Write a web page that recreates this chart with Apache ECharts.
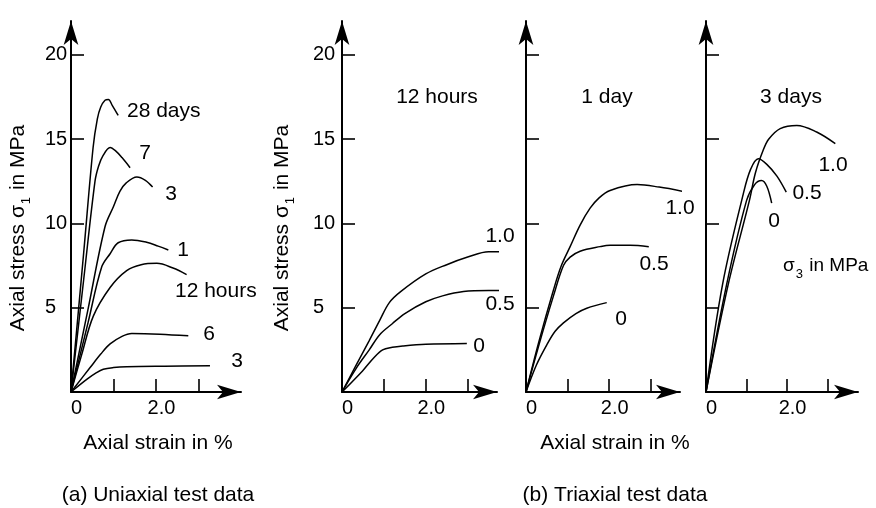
<!DOCTYPE html>
<html><head><meta charset="utf-8">
<script src="https://cdn.jsdelivr.net/npm/echarts@6/dist/echarts.min.js"></script>
<style>html,body{margin:0;padding:0;background:#fff}#c{width:876px;height:508px}</style>
</head><body><div id="c"></div>
<script>
// ---------- DATA: [axial strain in %, axial stress in MPa] ----------
// (a) Uniaxial test data
const uni28d = [[0,0],[0.3,8.3],[0.52,14.5],[0.62,16.2],[0.7,16.9],[0.8,17.3],[0.88,17.35],[0.97,17.0],[1.11,16.4]];
const uni7d  = [[0,0],[0.3,6.7],[0.565,12.5],[0.65,13.4],[0.75,14.0],[0.92,14.5],[1.05,14.3],[1.2,13.9],[1.39,13.3]];
const uni3d  = [[0,0],[0.4,4.9],[0.8,9.8],[1.0,11.0],[1.15,11.9],[1.3,12.4],[1.55,12.75],[1.75,12.55],[1.92,12.15]];
const uni1d  = [[0,0],[0.4,4.1],[0.72,7.4],[0.92,8.2],[1.11,8.85],[1.43,9.02],[1.78,8.88],[2.05,8.65],[2.29,8.42]];
const uni12h = [[0,0],[0.25,2.2],[0.525,4.5],[0.92,6.2],[1.31,7.2],[1.65,7.55],[2.02,7.63],[2.4,7.35],[2.72,6.96]];
const uni6h  = [[0,0],[0.45,1.45],[0.7,2.25],[0.92,2.85],[1.2,3.3],[1.43,3.47],[2.09,3.43],[2.76,3.33]];
const uni3h  = [[0,0],[0.37,0.75],[0.6,1.15],[0.76,1.35],[1.0,1.45],[1.31,1.5],[2.2,1.53],[3.27,1.55]];
// (b) Triaxial, 12 hours, sigma3 = 1.0 / 0.5 / 0 MPa
const tri12h_10 = [[0,0],[0.35,1.65],[0.65,3.05],[0.9,4.25],[1.13,5.3],[1.4,5.95],[2.0,7.0],[2.5,7.55],[3.0,8.0],[3.5,8.32],[4.0,8.3]];
const tri12h_05 = [[0,0],[0.35,1.45],[0.65,2.5],[0.9,3.4],[1.2,4.05],[1.5,4.65],[2.0,5.35],[2.4,5.7],[2.9,5.96],[3.5,6.02],[4.0,6.0]];
const tri12h_0  = [[0,0],[0.49,1.25],[0.75,2.0],[0.97,2.5],[1.2,2.65],[1.45,2.73],[2.0,2.83],[2.98,2.88]];
// (b) Triaxial, 1 day
const tri1d_10 = [[0,0],[0.3,2.9],[0.66,6.05],[0.85,7.5],[1.06,8.62],[1.3,9.9],[1.54,10.9],[1.75,11.5],[2.02,11.95],[2.67,12.3],[3.2,12.15],[3.79,11.89]];
const tri1d_05 = [[0,0],[0.3,2.7],[0.66,5.7],[0.9,7.5],[1.06,8.0],[1.3,8.35],[1.78,8.62],[2.02,8.7],[2.5,8.7],[2.95,8.62]];
const tri1d_0  = [[0,0],[0.25,1.6],[0.5,2.8],[0.7,3.6],[0.9,4.1],[1.2,4.65],[1.46,4.97],[1.94,5.3]];
// (b) Triaxial, 3 days
const tri3d_10 = [[0,0],[0.55,6.4],[1.07,11.35],[1.22,13.0],[1.41,14.33],[1.55,15.0],[1.83,15.62],[2.24,15.81],[2.73,15.42],[3.19,14.73]];
const tri3d_05 = [[0,0],[0.41,6.4],[0.92,11.75],[1.1,13.2],[1.29,13.83],[1.5,13.5],[1.75,12.8],[1.98,11.85]];
const tri3d_0  = [[0,0],[0.52,6.5],[1.0,11.35],[1.2,12.3],[1.37,12.54],[1.5,12.2],[1.62,11.2]];

// tick values / labels
const xTickValues = [1, 2, 3];
const xTickLabels = {0: '0', 2: '2.0'};
const yTickValues = [5, 10, 15, 20];

// ---------- CHART ----------
const FONT = '"Liberation Sans", Arial, Helvetica, sans-serif';
const panels = [
  {left: 71,  width: 170, xMax: 4.0,  yLabels: true,  yMargin: 26},
  {left: 342, width: 155, xMax: 3.7,  yLabels: true,  yMargin: 29},
  {left: 526, width: 154, xMax: 3.7,  yLabels: false, yMargin: 26},
  {left: 706, width: 152, xMax: 3.75, yLabels: false, yMargin: 26}
];
const curves = [
  [0, uni28d], [0, uni7d], [0, uni3d], [0, uni1d], [0, uni12h], [0, uni6h], [0, uni3h],
  [1, tri12h_10], [1, tri12h_05], [1, tri12h_0],
  [2, tri1d_10], [2, tri1d_05], [2, tri1d_0],
  [3, tri3d_10], [3, tri3d_05], [3, tri3d_0]
];

const axisLineStyle = {color: '#000', width: 2};
const arrow = {show: true, symbol: ['none', 'arrow'], symbolSize: [11, 24], lineStyle: axisLineStyle};

const grid = panels.map(p => ({left: p.left, top: 21, width: p.width, height: 371, outerBoundsMode: 'none', containLabel: false}));
const xAxis = panels.map((p, i) => ({
  type: 'value', gridIndex: i, min: 0, max: p.xMax, interval: 1,
  axisLine: arrow,
  axisTick: {show: true, inside: true, length: 13, customValues: xTickValues, lineStyle: {color: '#000', width: 1.6}},
  axisLabel: {show: true, customValues: [0, 2], formatter: v => xTickLabels[v] || '', color: '#000',
              fontSize: 20, fontFamily: FONT, margin: 6, padding: [0, 0, 0, 11]},
  splitLine: {show: false}
}));
const yAxis = panels.map((p, i) => ({
  type: 'value', gridIndex: i, min: 0, max: 22, interval: 5,
  axisLine: arrow,
  axisTick: {show: true, inside: true, length: 13, customValues: yTickValues, lineStyle: {color: '#000', width: 1.6}},
  axisLabel: {show: p.yLabels, customValues: yTickValues, formatter: v => String(v), color: '#000',
              fontSize: 20, fontFamily: FONT, margin: p.yMargin, align: 'left'},
  splitLine: {show: false}
}));
const series = curves.map(([pi, data]) => ({
  type: 'line', xAxisIndex: pi, yAxisIndex: pi, data: data,
  showSymbol: false, symbol: 'none', smooth: 0.35, clip: false, silent: true,
  lineStyle: {color: '#000', width: 1.5}
}));

function txt(x, y, text, opts) {
  opts = opts || {};
  return {
    type: 'text', x: x, y: y, rotation: opts.rot || 0, silent: true,
    style: {
      text: text, fill: '#000', fontSize: opts.size || 21, fontFamily: FONT,
      align: opts.align || 'center', textAlign: opts.align || 'center',
      verticalAlign: 'middle', textVerticalAlign: 'middle',
      rich: {
        sub: {fontSize: 13, fontFamily: FONT, fill: '#000', padding: [17, 1, 0, 1]},
        n: {fontSize: opts.size || 21, fontFamily: FONT, fill: '#000'}
      }
    }
  };
}
const graphics = [
  // panel (a) curve labels
  txt(127, 111, '28 days', {align: 'left'}),
  txt(145, 153, '7'), txt(171, 194, '3'), txt(183, 250, '1'),
  txt(175, 291, '12 hours', {align: 'left'}),
  txt(209, 334, '6'), txt(237, 361, '3'),
  // panel (b) titles & labels
  txt(437, 97, '12 hours'), txt(500, 236, '1.0'), txt(500, 304, '0.5'), txt(479, 346, '0'),
  txt(607, 97, '1 day'), txt(680, 208, '1.0'), txt(654, 264, '0.5'), txt(621, 319, '0'),
  txt(791, 97, '3 days'), txt(833, 165, '1.0'), txt(807, 193, '0.5'), txt(774, 221, '0'),
  txt(783, 266, '{n|σ}{sub|3}{n| in MPa}', {align: 'left', size: 19}),
  // axis titles
  txt(18, 228, '{n|Axial stress σ}{sub|1}{n| in MPa}', {rot: Math.PI / 2}),
  txt(282, 228, '{n|Axial stress σ}{sub|1}{n| in MPa}', {rot: Math.PI / 2}),
  txt(158, 443, 'Axial strain in %'),
  txt(615, 443, 'Axial strain in %'),
  txt(158, 495, '(a) Uniaxial test data'),
  txt(615, 495, '(b) Triaxial test data')
];

const chart = echarts.init(document.getElementById('c'), null, {renderer: 'canvas'});
chart.setOption({
  animation: false,
  backgroundColor: '#fff',
  grid: grid, xAxis: xAxis, yAxis: yAxis, series: series,
  graphic: {elements: graphics}
});
</script>
</body></html>
